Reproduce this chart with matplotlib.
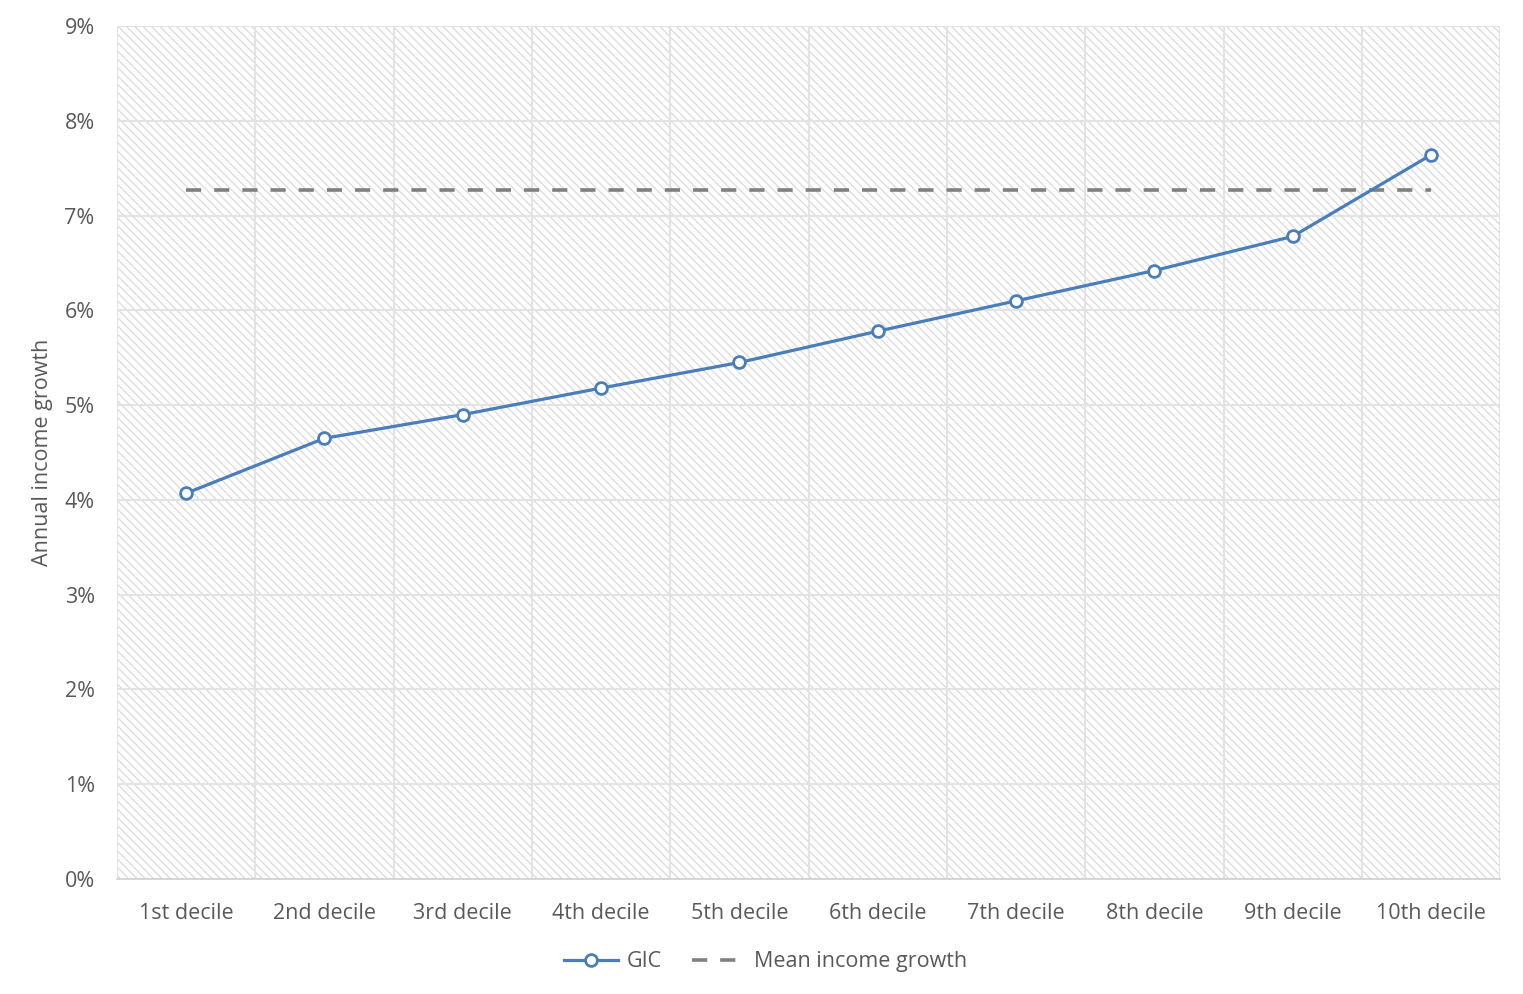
import matplotlib
matplotlib.use('Agg')
import matplotlib.pyplot as plt
from matplotlib.patches import Rectangle
from matplotlib.ticker import FuncFormatter, FixedLocator

# data
deciles = ['1st decile', '2nd decile', '3rd decile', '4th decile', '5th decile',
           '6th decile', '7th decile', '8th decile', '9th decile', '10th decile']
gic = [4.07, 4.65, 4.90, 5.18, 5.45, 5.78, 6.10, 6.42, 6.78, 7.64]
mean_growth = [7.27] * 10

plt.rcParams['font.family'] = ['Open Sans', 'DejaVu Sans']
plt.rcParams['hatch.linewidth'] = 0.9
txt = '#595959'

fig = plt.figure(figsize=(15.23, 9.94), dpi=100)
ax = fig.add_axes([0.0768, 0.1157, 0.9082, 0.8581])

x = list(range(len(deciles)))
ax.set_xlim(-0.5, len(deciles) - 0.5)
ax.set_ylim(0, 9)

# hatched plot area
bg = Rectangle((0, 0), 1, 1, transform=ax.transAxes, facecolor='white',
               edgecolor='#dadada', hatch='\\\\\\\\', linewidth=0, zorder=0)
ax.add_patch(bg)

ax.yaxis.set_major_locator(FixedLocator(range(10)))
ax.yaxis.set_major_formatter(FuncFormatter(lambda v, p: '%d%%' % v))
ax.set_xticks(x)
ax.set_xticklabels(deciles)
ax.xaxis.set_minor_locator(FixedLocator([i + 0.5 for i in range(-1, len(deciles))]))
ax.grid(axis='y', which='major', color='#e3e3e3', linewidth=1.5, zorder=1)
ax.grid(axis='x', which='minor', color='#e3e3e3', linewidth=1.5, zorder=1)
ax.tick_params(axis='both', which='both', length=0, colors=txt, labelsize=15.5)
ax.tick_params(axis='x', pad=17)
ax.tick_params(axis='y', pad=16)
for s in ['top', 'right', 'left']:
    ax.spines[s].set_visible(False)
ax.spines['bottom'].set_color('#d0d0d0')
ax.spines['bottom'].set_linewidth(1.2)

ax.plot(x, gic, color='#4a7ebb', linewidth=2.3, marker='o', markersize=8.5,
        markerfacecolor='white', markeredgecolor='#4a7ebb', markeredgewidth=2,
        label='GIC', zorder=4)
ax.plot(x, mean_growth, color='#808080', linewidth=2.6, dashes=(4.2, 3.6),
        label='Mean income growth', zorder=3)

ax.set_ylabel('Annual income growth', color=txt, fontsize=15.5, labelpad=8)

leg = ax.legend(loc='upper center', bbox_to_anchor=(0.469, -0.062), ncol=2,
                frameon=False, fontsize=15.5, handlelength=2.5, columnspacing=1.4,
                handletextpad=0.4)
for t in leg.get_texts():
    t.set_color(txt)

fig.savefig('out.png', dpi=100)
